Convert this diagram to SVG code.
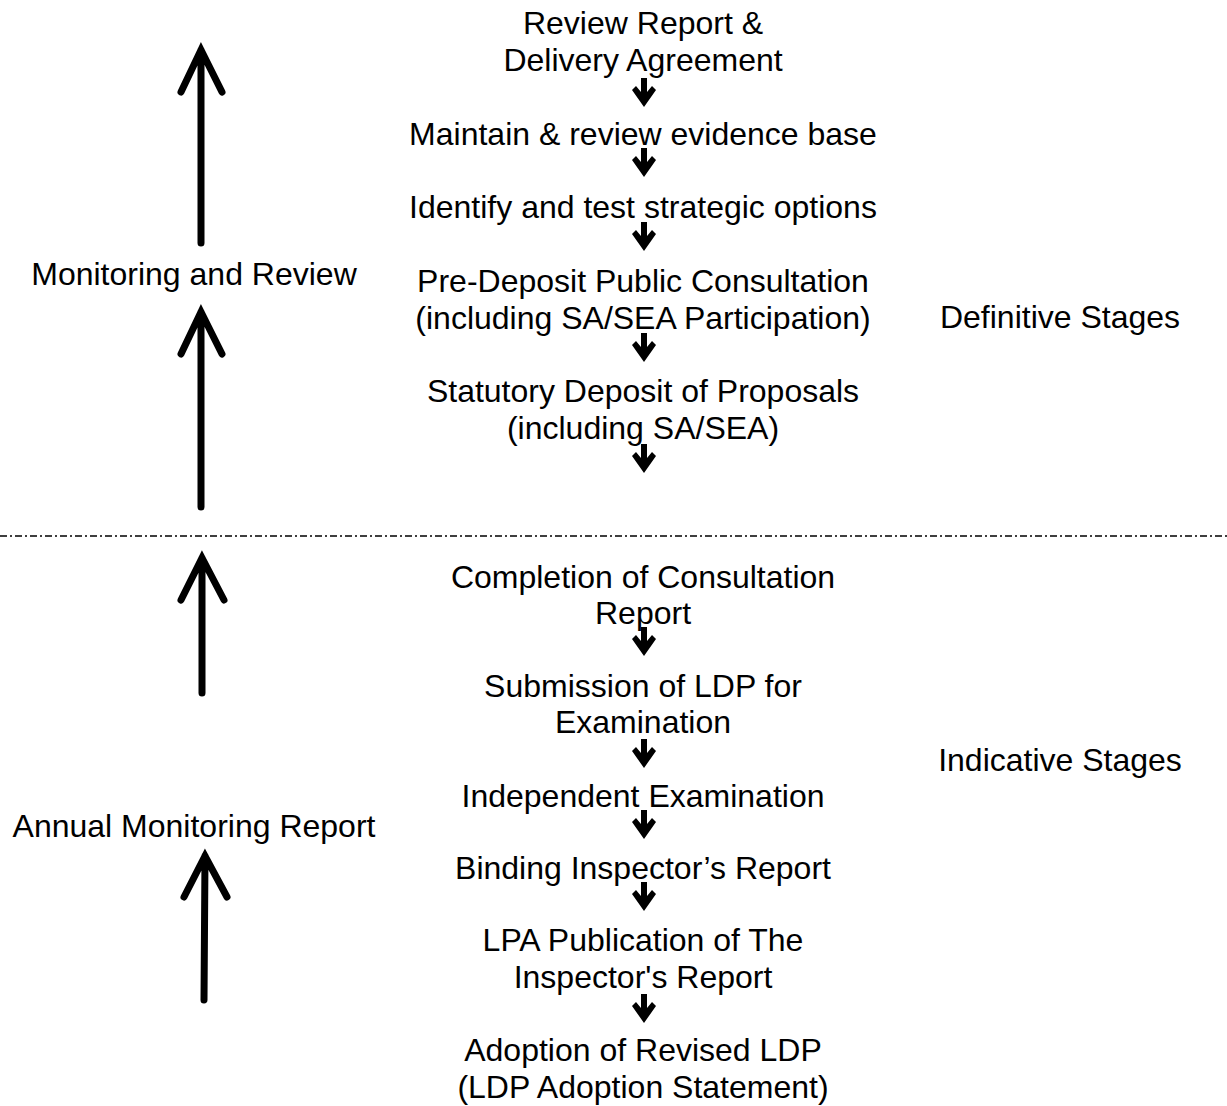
<svg xmlns="http://www.w3.org/2000/svg" width="1227" height="1106" viewBox="0 0 1227 1106">
<defs>
<style>
text{font-family:"Liberation Sans",Arial,sans-serif;font-size:32px;fill:#000;text-anchor:middle}
.big{fill:none;stroke:#000;stroke-width:7;stroke-linecap:round;stroke-linejoin:miter}
.sep{stroke:#000;stroke-width:1.3;stroke-dasharray:7 3 2 3;fill:none}
</style>
<path id="sa" d="M-3,-18 H3 V-4 L8,-10 L12,-6 L0,11 L-12,-6 L-8,-10 L-3,-4 Z" fill="#000"/>
</defs>
<rect width="1227" height="1106" fill="#fff"/>
<g id="connectors">
<line class="sep" x1="0" y1="536" x2="1227" y2="536"/>
<path class="big" d="M201,243 V50 M181,92 L201,50 L222,92"/>
<path class="big" d="M201,507 V312 M181,354 L201,312 L222,354"/>
<path class="big" d="M202,693 V558 M181,600 L202,558 L224,600"/>
<path class="big" d="M204,1000 L205,856 M184,897 L205,856 L227,897"/>
<use href="#sa" x="644" y="96"/>
<use href="#sa" x="644" y="166"/>
<use href="#sa" x="644" y="240"/>
<use href="#sa" x="644" y="351"/>
<use href="#sa" x="644" y="462"/>
<use href="#sa" x="644" y="645"/>
<use href="#sa" x="644" y="757"/>
<use href="#sa" x="644" y="828"/>
<use href="#sa" x="644" y="900"/>
<use href="#sa" x="644" y="1012"/>
</g>
<g id="n1"><text x="643" y="34">Review Report &amp;</text><text x="643" y="71">Delivery Agreement</text></g>
<g id="n2"><text x="643" y="145">Maintain &amp; review evidence base</text></g>
<g id="n3"><text x="643" y="218">Identify and test strategic options</text></g>
<g id="n4"><text x="643" y="292">Pre-Deposit Public Consultation</text><text x="643" y="329">(including SA/SEA Participation)</text></g>
<g id="n5"><text x="643" y="402">Statutory Deposit of Proposals</text><text x="643" y="439">(including SA/SEA)</text></g>
<g id="n6"><text x="643" y="588">Completion of Consultation</text><text x="643" y="624">Report</text></g>
<g id="n7"><text x="643" y="697">Submission of LDP for</text><text x="643" y="733">Examination</text></g>
<g id="n8"><text x="643" y="807">Independent Examination</text></g>
<g id="n9"><text x="643" y="879">Binding Inspector’s Report</text></g>
<g id="n10"><text x="643" y="951">LPA Publication of The</text><text x="643" y="988">Inspector's Report</text></g>
<g id="n11"><text x="643" y="1061">Adoption of Revised LDP</text><text x="643" y="1098">(LDP Adoption Statement)</text></g>
<g id="lbl-monitoring"><text x="194" y="285">Monitoring and Review</text></g>
<g id="lbl-annual"><text x="194" y="837">Annual Monitoring Report</text></g>
<g id="lbl-definitive"><text x="1060" y="328">Definitive Stages</text></g>
<g id="lbl-indicative"><text x="1060" y="771">Indicative Stages</text></g>
</svg>
